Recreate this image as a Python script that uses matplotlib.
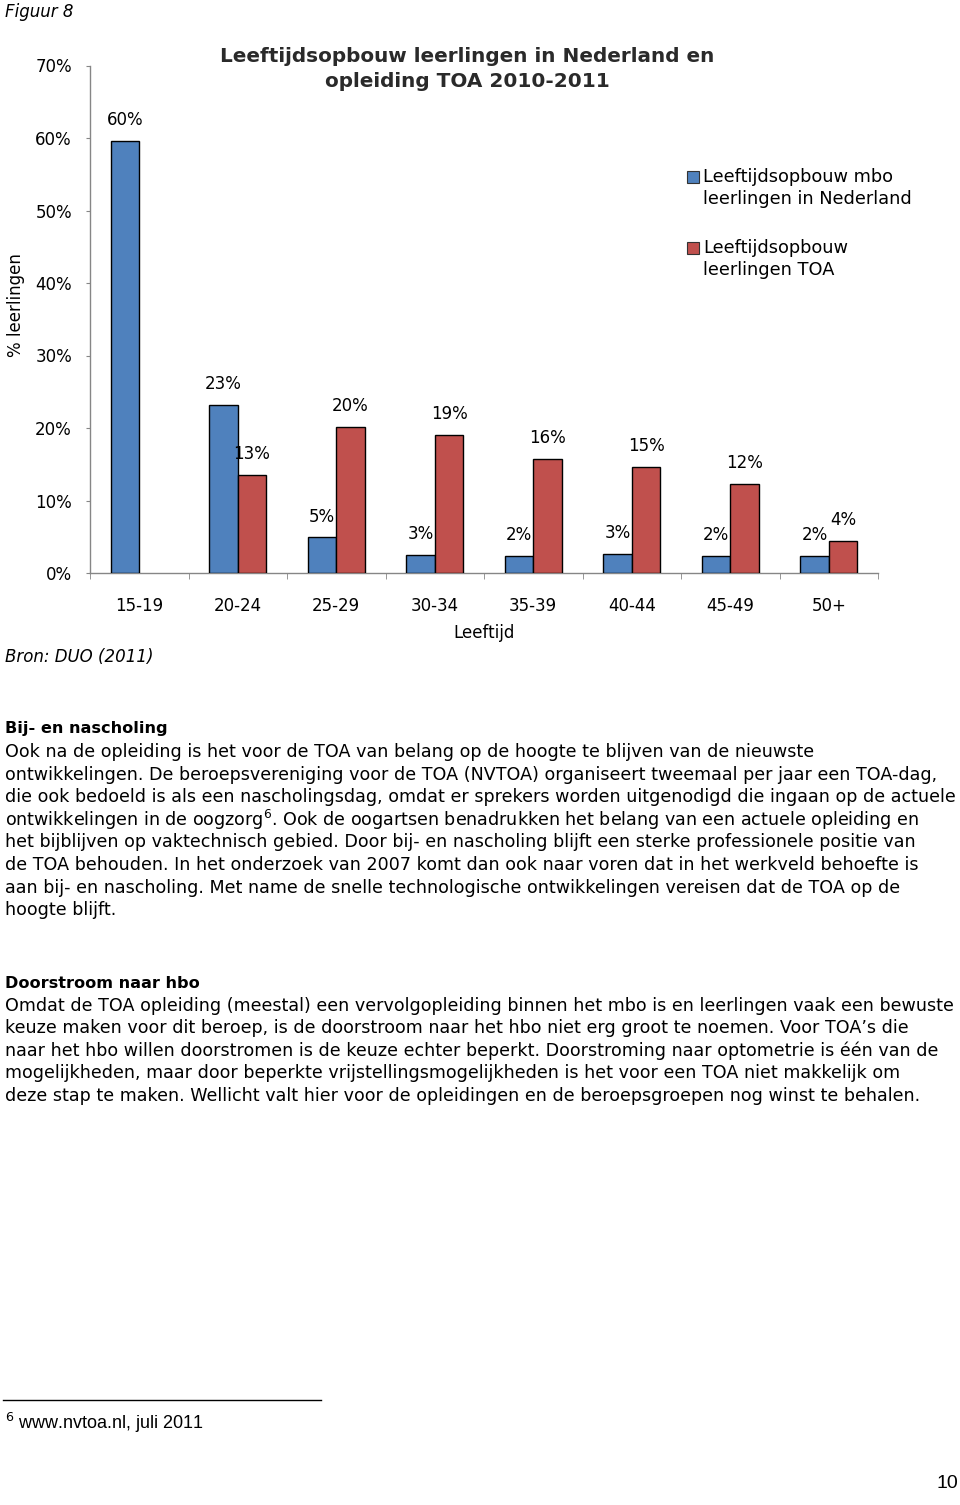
import matplotlib
matplotlib.use("Agg")
import matplotlib.pyplot as plt
import numpy as np
from matplotlib.patches import Rectangle
from matplotlib.lines import Line2D

plt.rcParams['font.family'] = ['DejaVu Sans']
plt.rcParams['mathtext.fontset'] = 'dejavusans'

# ---------------- data ----------------
categories = ["15-19", "20-24", "25-29", "30-34", "35-39", "40-44", "45-49", "50+"]
mbo_values = [59.6, 23.2, 4.9, 2.5, 2.3, 2.6, 2.4, 2.4]
toa_values = [np.nan, 13.5, 20.2, 19.0, 15.7, 14.6, 12.3, 4.4]
mbo_labels = ["60%", "23%", "5%", "3%", "2%", "3%", "2%", "2%"]
toa_labels = ["", "13%", "20%", "19%", "16%", "15%", "12%", "4%"]
y_ticks = [0, 10, 20, 30, 40, 50, 60, 70]
y_tick_labels = ["0%", "10%", "20%", "30%", "40%", "50%", "60%", "70%"]
legend_labels = ["Leeftijdsopbouw mbo\nleerlingen in Nederland",
                 "Leeftijdsopbouw\nleerlingen TOA"]
title = "Leeftijdsopbouw leerlingen in Nederland en\nopleiding TOA 2010-2011"

section1_heading = "Bij- en nascholing"
section1_lines = [
    "Ook na de opleiding is het voor de TOA van belang op de hoogte te blijven van de nieuwste",
    "ontwikkelingen. De beroepsvereniging voor de TOA (NVTOA) organiseert tweemaal per jaar een TOA-dag,",
    "die ook bedoeld is als een nascholingsdag, omdat er sprekers worden uitgenodigd die ingaan op de actuele",
    "ontwikkelingen in de oogzorg$^{6}$. Ook de oogartsen benadrukken het belang van een actuele opleiding en",
    "het bijblijven op vaktechnisch gebied. Door bij- en nascholing blijft een sterke professionele positie van",
    "de TOA behouden. In het onderzoek van 2007 komt dan ook naar voren dat in het werkveld behoefte is",
    "aan bij- en nascholing. Met name de snelle technologische ontwikkelingen vereisen dat de TOA op de",
    "hoogte blijft.",
]
section2_heading = "Doorstroom naar hbo"
section2_lines = [
    "Omdat de TOA opleiding (meestal) een vervolgopleiding binnen het mbo is en leerlingen vaak een bewuste",
    "keuze maken voor dit beroep, is de doorstroom naar het hbo niet erg groot te noemen. Voor TOA\u2019s die",
    "naar het hbo willen doorstromen is de keuze echter beperkt. Doorstroming naar optometrie is \u00e9\u00e9n van de",
    "mogelijkheden, maar door beperkte vrijstellingsmogelijkheden is het voor een TOA niet makkelijk om",
    "deze stap te maken. Wellicht valt hier voor de opleidingen en de beroepsgroepen nog winst te behalen.",
]
footnote = "$^{6}$ www.nvtoa.nl, juli 2011"
page_number = "10"

# ---------------- figure ----------------
W, H = 960, 1505
fig = plt.figure(figsize=(W / 100, H / 100), dpi=100)
fig.patch.set_facecolor("white")

def fx(px):
    return px / W

def fy(py):
    return 1 - py / H

ax_left, ax_right, ax_top, ax_bottom = 90, 878, 65.5, 573
ax = fig.add_axes([fx(ax_left), fy(ax_bottom), fx(ax_right - ax_left), (ax_bottom - ax_top) / H])

blue = "#4F81BD"
red = "#C0504D"
axis_gray = "#868686"

x = np.arange(len(categories))
bw = 0.29
ax.bar(x - bw / 2, mbo_values, bw, color=blue, edgecolor="black", linewidth=1.0, zorder=3)
ax.bar(x + bw / 2, toa_values, bw, color=red, edgecolor="black", linewidth=1.0, zorder=3)

for xi, v, lab in zip(x, mbo_values, mbo_labels):
    if lab and not np.isnan(v):
        ax.annotate(lab, (xi - bw / 2, v), xytext=(0, 15), textcoords="offset points",
                    ha="center", va="center", fontsize=12)
for xi, v, lab in zip(x, toa_values, toa_labels):
    if lab and not np.isnan(v):
        ax.annotate(lab, (xi + bw / 2, v), xytext=(0, 15), textcoords="offset points",
                    ha="center", va="center", fontsize=12)

ax.set_xlim(-0.5, len(categories) - 0.5)
ax.set_ylim(0, 70)
ax.set_yticks(y_ticks)
ax.set_yticklabels(y_tick_labels, fontsize=12)
ax.set_xticks(x)
ax.set_xticklabels(categories, fontsize=12)
ax.set_xticks(np.arange(-0.5, len(categories) + 0.5, 1.0), minor=True)
ax.tick_params(axis="x", which="major", length=0, pad=17)
ax.tick_params(axis="x", which="minor", length=4, color=axis_gray, direction="out")
ax.tick_params(axis="y", length=3, color=axis_gray, pad=10, direction="out")
for s in ["top", "right"]:
    ax.spines[s].set_visible(False)
for s in ["left", "bottom"]:
    ax.spines[s].set_color(axis_gray)
    ax.spines[s].set_linewidth(1.0)

fig.text(fx(484), fy(633), "Leeftijd", ha="center", va="center", fontsize=12)
fig.text(fx(16), fy(305), "% leerlingen", ha="center", va="center", rotation=90, fontsize=12)
fig.text(fx(467), fy(69), title, ha="center", va="center", fontsize=14.4, fontweight="bold",
         color="#2a2a2a", linespacing=1.45)

# legend
for i, (col, lab) in enumerate(zip([blue, red], legend_labels)):
    top = 171 + i * 71
    fig.add_artist(Rectangle((fx(687), fy(top + 12)), fx(12), 12 / H, transform=fig.transFigure,
                             facecolor=col, edgecolor="#333333", linewidth=0.8))
    fig.text(fx(703), fy(top + 17), lab, ha="left", va="center", fontsize=12.8, linespacing=1.25)

fig.text(fx(5), fy(12), "Figuur 8", ha="left", va="center", fontsize=12, style="italic")
fig.text(fx(5), fy(657), "Bron: DUO (2011)", ha="left", va="center", fontsize=12, style="italic")

# body text
head_fs = 11.6
body_fs = 12.6
fig.text(fx(5), fy(729), section1_heading, ha="left", va="center", fontsize=head_fs, fontweight="bold")
for i, line in enumerate(section1_lines):
    fig.text(fx(5), fy(752 + i * 22.6), line, ha="left", va="center", fontsize=body_fs)

fig.text(fx(5), fy(983), section2_heading, ha="left", va="center", fontsize=head_fs, fontweight="bold")
for i, line in enumerate(section2_lines):
    fig.text(fx(5), fy(1006 + i * 22.4), line, ha="left", va="center", fontsize=body_fs)

fig.add_artist(Line2D([fx(3), fx(321)], [fy(1400), fy(1400)], transform=fig.transFigure,
                      color="black", linewidth=1.0))
fig.text(fx(5), fy(1423), footnote, ha="left", va="center", fontsize=13,
         family="Liberation Sans")
fig.text(fx(958), fy(1483), page_number, ha="right", va="center", fontsize=14,
         family="Liberation Sans")

fig.savefig("out.png", dpi=100, facecolor="white")
